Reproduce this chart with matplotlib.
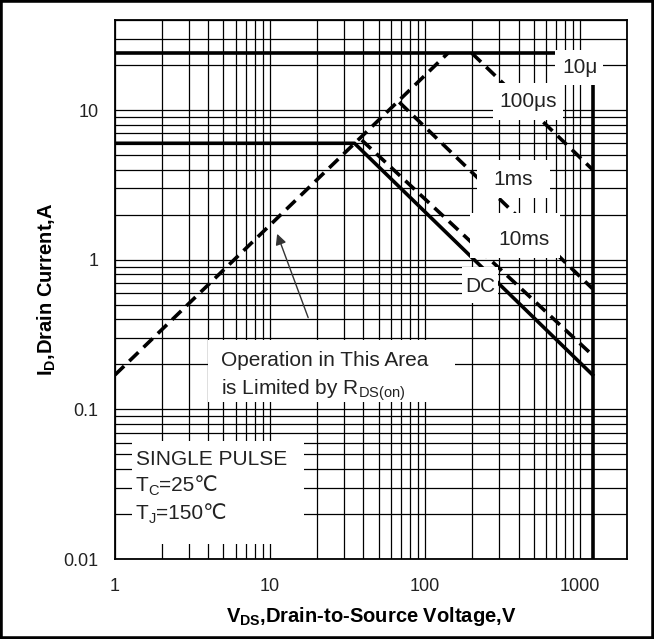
import matplotlib
matplotlib.use('Agg')
import matplotlib.pyplot as plt
from matplotlib.patches import Rectangle
from matplotlib.ticker import FixedLocator, FixedFormatter, NullFormatter

plt.rcParams['font.family'] = ['Liberation Sans', 'DejaVu Sans']
plt.rcParams['mathtext.fontset'] = 'custom'
plt.rcParams['mathtext.rm'] = 'Liberation Sans'
plt.rcParams['mathtext.bf'] = 'Liberation Sans:bold'

# safe operating area
rds_v = [1, 140]
rds_i = [0.17, 24]
us10_v = [1, 1200, 1200]
us10_i = [24, 24, 0.01]
us100_v = [200, 1200]
us100_i = [24, 4.0]
ms1_v = [68, 1200]
ms1_i = [11.3, 0.64]
ms10_v = [39, 1200]
ms10_i = [6.3, 0.23]
dc_v = [1, 35, 1200]
dc_i = [6, 6, 0.17]

x_ticks = [1, 10, 100, 1000]
x_labels = ['1', '10', '100', '1000']
y_ticks = [0.01, 0.1, 1, 10]
y_labels = ['0.01', '0.1', '1', '10']

fig = plt.figure(figsize=(6.54, 6.39), dpi=100)
ax = fig.add_axes([115/654, 1 - 559/639, 512/654, 539/639])
ax.set_xscale('log')
ax.set_yscale('log')
ax.set_xlim(1, 2000)
ax.set_ylim(0.01, 40)

ax.grid(True, which='both', color='black', lw=0.9, zorder=1)
ax.set_axisbelow(True)
ax.xaxis.set_major_locator(FixedLocator(x_ticks))
ax.xaxis.set_major_formatter(FixedFormatter(x_labels))
ax.yaxis.set_major_locator(FixedLocator(y_ticks))
ax.yaxis.set_major_formatter(FixedFormatter(y_labels))
ax.xaxis.set_minor_formatter(NullFormatter())
ax.yaxis.set_minor_formatter(NullFormatter())
ax.tick_params(which='both', length=0, labelsize=13, labelcolor='#222222')
ax.tick_params(axis='x', pad=14)
ax.tick_params(axis='y', pad=12)
for s in ax.spines.values():
    s.set_linewidth(1.3)

lw = 2.6
dash = (0, (3.5, 2.0))
ax.plot(rds_v, rds_i, color='black', lw=lw, ls=dash, zorder=3)
ax.plot(us10_v, us10_i, color='black', lw=lw, zorder=3)
ax.plot(us100_v, us100_i, color='black', lw=lw, ls=dash, zorder=3)
ax.plot(ms1_v, ms1_i, color='black', lw=lw, ls=dash, zorder=3)
ax.plot(ms10_v, ms10_i, color='black', lw=lw, ls=dash, zorder=3)
ax.plot(dc_v, dc_i, color='black', lw=lw, zorder=3)

# white label boxes (axes fraction)
boxes = [
    (0.859, 0.879, 0.094, 0.065),
    (0.738, 0.814, 0.137, 0.069),
    (0.707, 0.670, 0.143, 0.070),
    (0.693, 0.558, 0.176, 0.084),
    (0.678, 0.475, 0.070, 0.067),
    (0.182, 0.291, 0.482, 0.115),
    (0.033, 0.028, 0.336, 0.191),
]
for x0, y0, w, h in boxes:
    ax.add_patch(Rectangle((x0, y0), w, h, transform=ax.transAxes,
                           facecolor='white', edgecolor='none', zorder=4))

fs = 15
tc = '#222222'
kw = dict(transform=ax.transAxes, fontsize=fs, color=tc, zorder=5)
ax.text(0.908, 0.911, '10μ', ha='center', va='center', **kw)
ax.text(0.807, 0.848, '100μs', ha='center', va='center', **kw)
ax.text(0.777, 0.705, '1ms', ha='center', va='center', **kw)
ax.text(0.798, 0.593, '10ms', ha='center', va='center', **kw)
ax.text(0.713, 0.506, 'DC', ha='center', va='center', **kw)
ax.text(0.207, 0.369, 'Operation in This Area', ha='left', va='center', **kw)
ax.text(0.207, 0.314, r'is Limited by R$_\mathregular{DS(on)}$', ha='left', va='center', **kw)
ax.text(0.041, 0.184, 'SINGLE PULSE', ha='left', va='center', **kw)


def temp_line(y, sub, rest):
    t = ax.text(0.041, y, 'T', ha='left', va='center', **kw)
    s = ax.annotate(sub, xy=(1, 0), xycoords=t, xytext=(0, -2.5),
                    textcoords='offset points', ha='left', va='bottom',
                    fontsize=fs * 0.7, color=tc, zorder=5)
    ax.annotate(rest, xy=(1, 0), xycoords=(s, t), ha='left', va='bottom',
                fontsize=fs, color=tc, zorder=5)


temp_line(0.137, 'C', '=25℃')
temp_line(0.085, 'J', '=150℃')

ax.annotate('', xy=(11.1, 1.49), xytext=(17.6, 0.41),
            arrowprops=dict(arrowstyle='-|>', color='#333333', lw=1.0,
                            mutation_scale=16, shrinkA=0, shrinkB=0),
            zorder=5)

ax.set_xlabel(r'$\mathbf{V_{DS}}$,Drain-to-Source Voltage,V',
              fontsize=14.5, fontweight='bold', labelpad=7)
ax.set_ylabel(r'$\mathbf{I_D}$,Drain Current,A',
              fontsize=14.5, fontweight='bold', labelpad=4)

fig.patches.append(Rectangle((0, 0), 1, 1, transform=fig.transFigure,
                             fill=False, edgecolor='black', lw=4))

fig.savefig('out.png', dpi=100)
